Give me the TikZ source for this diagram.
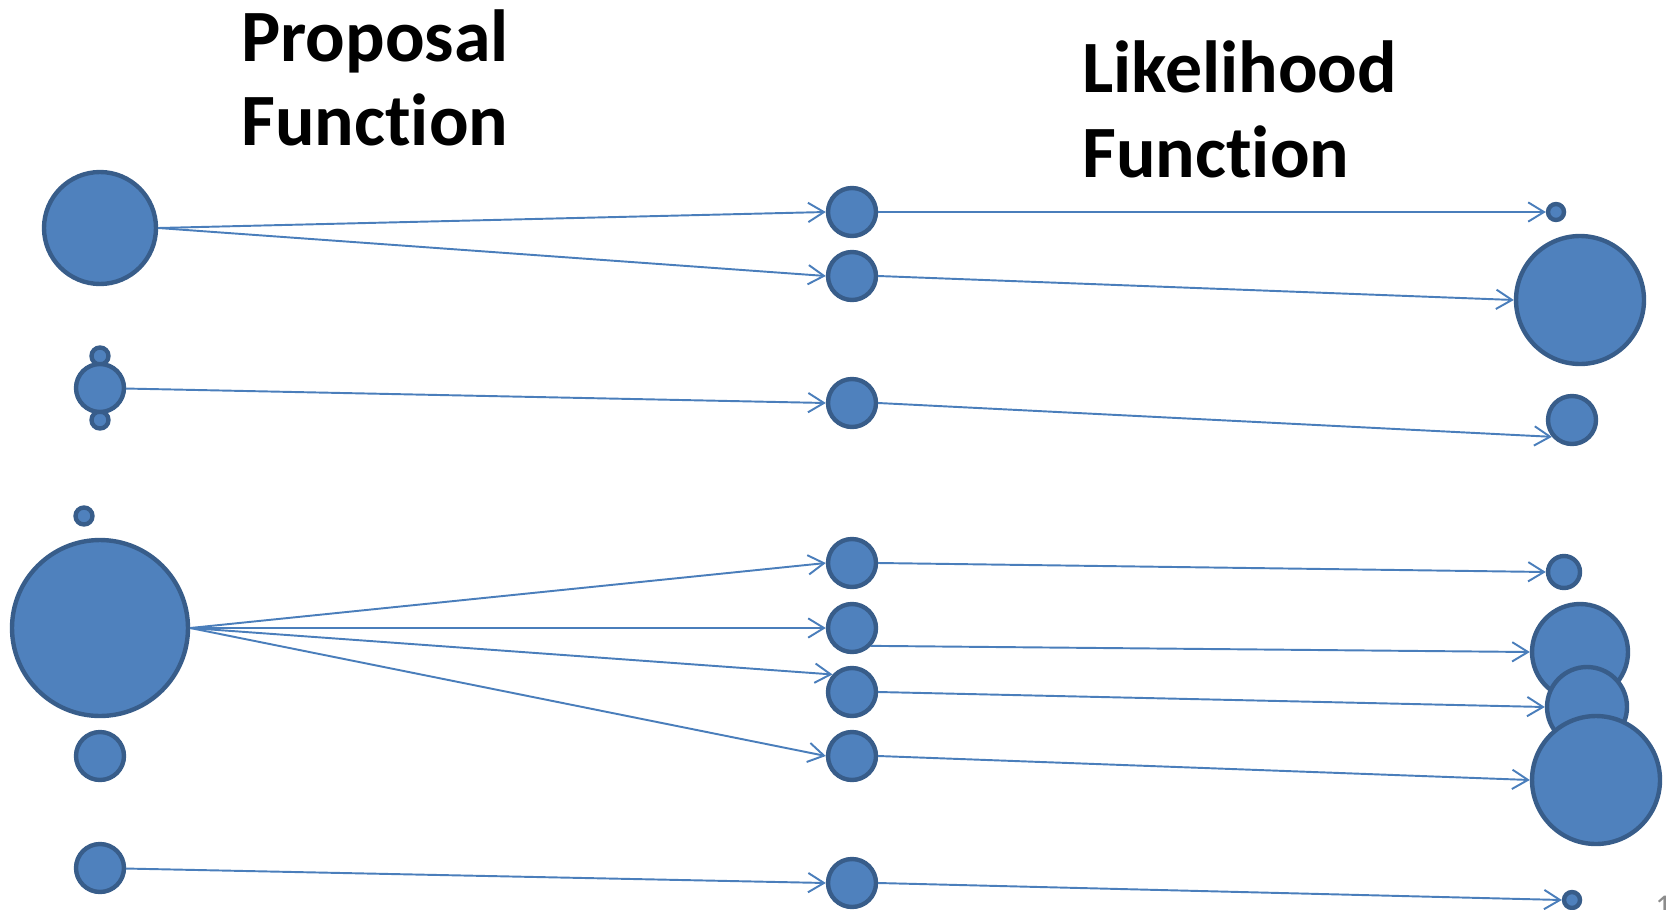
\documentclass[tikz,border=0pt]{standalone}
\usepackage{fontspec}
\setmainfont{Carlito}[Ligatures=NoCommon]
\usetikzlibrary{arrows.meta, positioning}

\begin{document}
\begin{tikzpicture}[
    x=0.02cm, y=-0.02cm,
    bubble/.style={circle, draw=bubbleBorder, fill=bubbleFill, line width=2.5pt, inner sep=0pt, minimum size=#1},
    bubble/.default=0.96cm,
    edge/.style={->, line width=1.1pt, >={Straight Barb[length=9pt, width=11pt]}, draw=edgeBlue},
    heading/.style={anchor=base west, inner sep=0pt, font=\fontsize{42}{46}\selectfont\bfseries},
]
\definecolor{bubbleFill}{HTML}{4F81BD}
\definecolor{bubbleBorder}{HTML}{385D8A}
\definecolor{edgeBlue}{HTML}{4A7EBB}

\useasboundingbox (0,0) rectangle (1669,909);

% Headings
\node[heading] (propTitle) at (241,62) {Proposal};
\node[heading] (propFunc) at (241,145) {Function};
\node[heading] (likeTitle) at (1082,92) {Likelihood};
\node[heading] (likeFunc) at (1082,177) {Function};

% Proposal samples (left column)
\node[bubble=2.24cm] (prop1) at (100,228) {};
\node[bubble=0.34cm] (prop2a) at (100,356) {};
\node[bubble=0.34cm] (prop2b) at (100,420) {};
\node[bubble] (prop2) at (100,388) {};
\node[bubble=0.34cm] (prop3) at (84,516) {};
\node[bubble=3.52cm] (prop4) at (100,628) {};
\node[bubble] (prop5) at (100,756) {};
\node[bubble] (prop6) at (100,868) {};

% Drawn samples (middle column)
\foreach \i/\y in {1/212, 2/276, 3/403, 4/563, 5/628, 6/692, 7/756, 8/883}
    \node[bubble] (samp\i) at (852,\y) {};

% Weighted samples (right column)
\node[bubble=0.32cm] (like1) at (1556,212) {};
\node[bubble=2.56cm] (like2) at (1580,300) {};
\node[bubble] (like3) at (1572,420) {};
\node[bubble=0.64cm] (like4) at (1564,572) {};
\node[bubble=1.92cm] (like5) at (1580,652) {};
\node[bubble=1.60cm] (like6) at (1587,707) {};
\node[bubble=2.56cm] (like7) at (1596,780) {};
\node[bubble=0.32cm] (like8) at (1572,900) {};

% Proposal -> samples
\draw[edge] (prop1.east) -- (samp1.west);
\draw[edge] (prop1.east) -- (samp2.west);
\draw[edge] (prop2) -- (samp3.west);
\draw[edge] (prop4.east) -- (samp4.west);
\draw[edge] (prop4.east) -- (samp5.west);
\draw[edge] (prop4.east) -- (samp6.138);
\draw[edge] (prop4.east) -- (samp7.west);
\draw[edge] (prop6) -- (samp8.west);

% Samples -> likelihood
\draw[edge] (samp1.east) -- (like1.west);
\draw[edge] (samp2.east) -- (like2.west);
\draw[edge] (samp3.east) -- (like3.220);
\draw[edge] (samp4.east) -- (like4.west);
\draw[edge] (samp5.-43) -- (like5.west);
\draw[edge] (samp6.east) -- (like6.west);
\draw[edge] (samp7.east) -- (like7.west);
\draw[edge] (samp8.east) -- (like8.west);

% Slide number
\node[anchor=base west, inner sep=0pt, text=gray!90, font=\fontsize{18}{20}\selectfont] (pageNum) at (1655,916) {1};

\end{tikzpicture}
\end{document}
